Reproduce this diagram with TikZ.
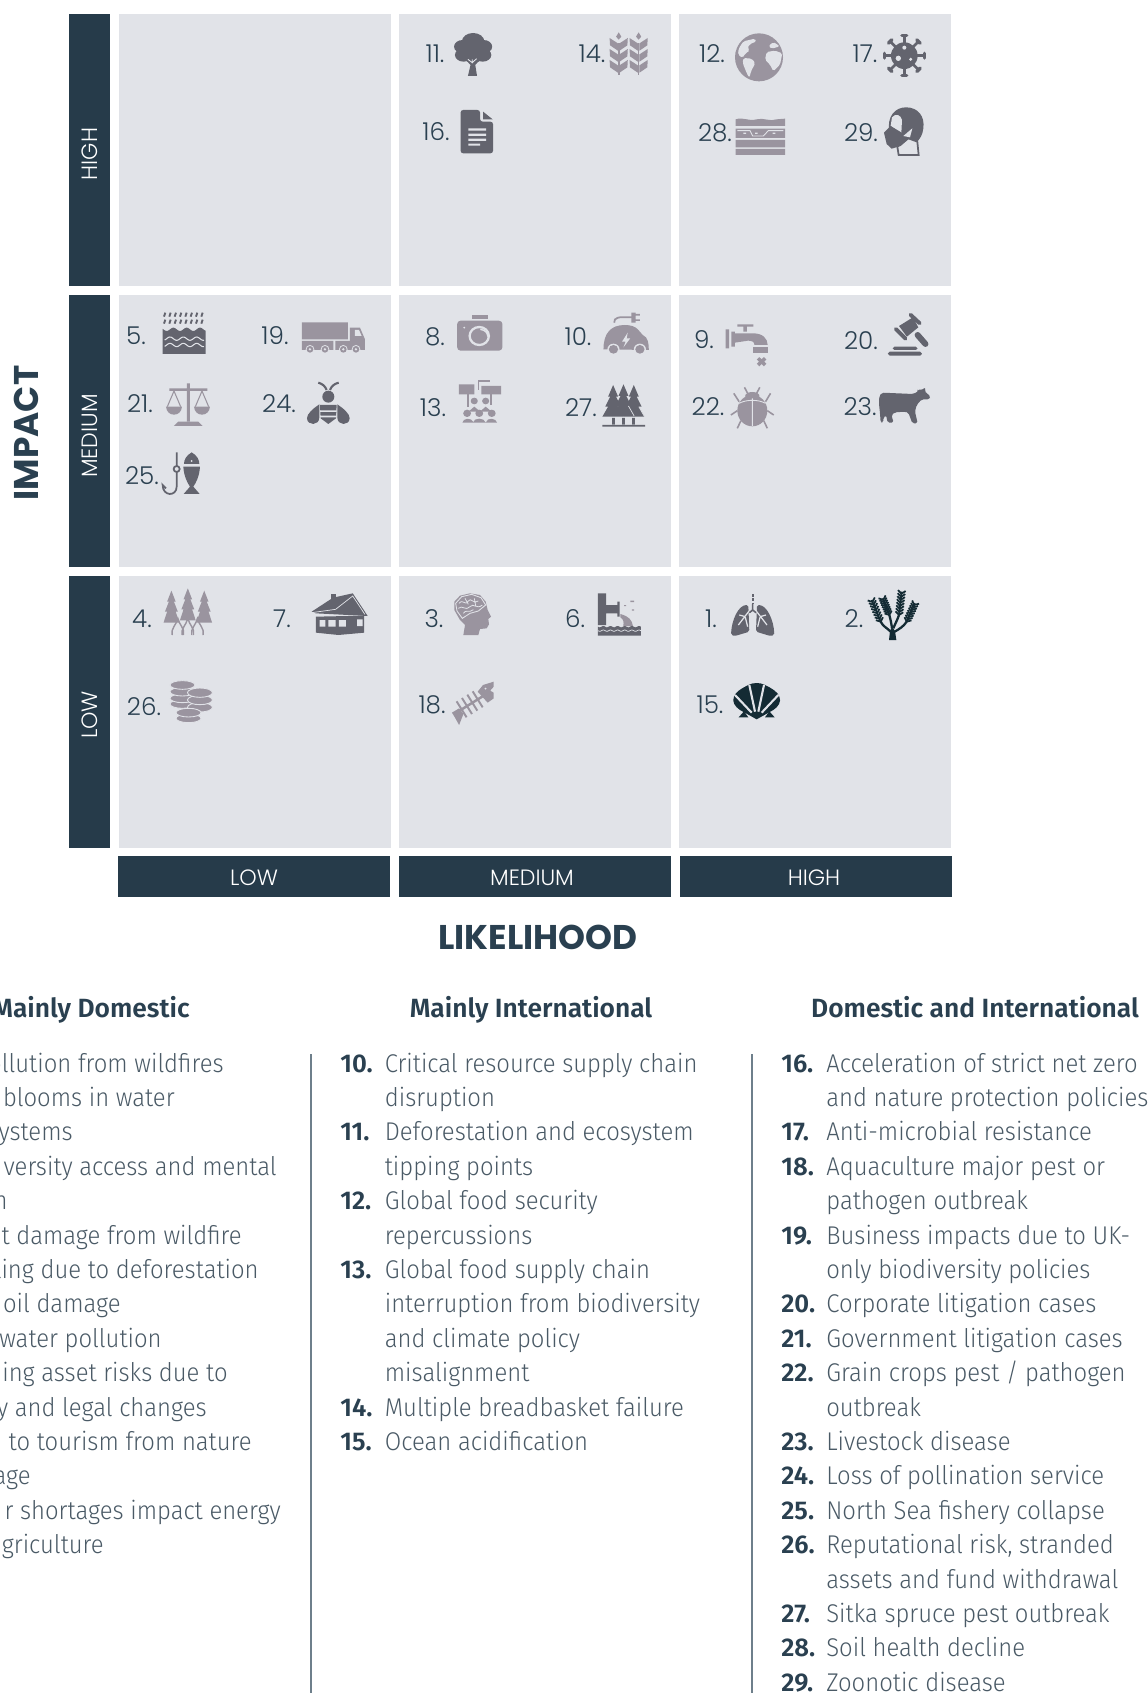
\documentclass[tikz,border=0pt]{standalone}
\usepackage{fontspec}
\usetikzlibrary{calc}
\newfontfamily\numfont{Poppins}[UprightFont=* Light,BoldFont=* Bold]
\newfontfamily\lstfont{Fira Sans}[UprightFont=* Light,BoldFont=* SemiBold,UprightFeatures={FakeStretch=0.93}]
\definecolor{barblue}{HTML}{263B4A}
\definecolor{cellgrey}{HTML}{E1E3E8}
\definecolor{iconlt}{HTML}{9A949F}
\definecolor{icondk}{HTML}{63646E}
\definecolor{iconnavy}{HTML}{142B34}
\definecolor{numblue}{HTML}{2A4050}
\definecolor{lsttext}{HTML}{4A5A66}
\definecolor{splitline}{HTML}{6E7F8B}
\tikzset{
    % text on the bars
    barlab/.style={inner sep=0pt, text=white, font=\numfont\fontsize{12.6}{14}\selectfont},
    axislab/.style={inner sep=0pt, text=numblue, font=\numfont\bfseries\fontsize{19.5}{22}\selectfont},
    % number beside an icon
    risknum/.style={inner sep=0pt, text=numblue, font=\numfont\fontsize{14}{16}\selectfont},
    % lists
    lsthead/.style={inner sep=0pt, anchor=base, text=numblue, font=\lstfont\bfseries\fontsize{15}{18}\selectfont},
    lstnum/.style={inner sep=0pt, anchor=base west, text=numblue, font=\lstfont\bfseries\fontsize{14.6}{18}\selectfont},
    lsttxt/.style={inner sep=0pt, anchor=base west, text=lsttext, font=\lstfont\fontsize{14.6}{18}\selectfont},
    lstcut/.style={lsttxt, anchor=base east},
    % the zoomed frames the icons are traced in
    zone/.style={x=0.008673cm,y=-0.006667cm},
    zfine/.style={shift={#1},x=0.006667cm,y=-0.006667cm},
    zwide/.style={shift={#1},x=0.007143cm,y=-0.006667cm},
    coin/.style={fill=iconlt, draw=cellgrey, line width=0.5pt}
}
\begin{document}
\begin{tikzpicture}[x=0.02cm,y=-0.02cm]
\useasboundingbox (0,0) rectangle (1148,1693);
\fill [white] (0,0) rectangle (1148,1693);

%%%%%%%%%%%%%%%%%%%%%%%%%%%%%%%%%

% cells
\fill [cellgrey] (119,14) rectangle (391,286);
\fill [cellgrey] (399,14) rectangle (671,286);
\fill [cellgrey] (679,14) rectangle (951,286);
\fill [cellgrey] (119,295) rectangle (391,567);
\fill [cellgrey] (399,295) rectangle (671,567);
\fill [cellgrey] (679,295) rectangle (951,567);
\fill [cellgrey] (119,576) rectangle (391,848);
\fill [cellgrey] (399,576) rectangle (671,848);
\fill [cellgrey] (679,576) rectangle (951,848);

% impact bars
\fill [barblue] (69,14) rectangle (110,286);
\fill [barblue] (69,295) rectangle (110,567);
\fill [barblue] (69,576) rectangle (110,848);

% likelihood bars
\fill [barblue] (118,856) rectangle (390,897);
\fill [barblue] (399,856) rectangle (671,897);
\fill [barblue] (680,856) rectangle (952,897);

\node [barlab, rotate=90] (impHigh) at (89.5,154) {HIGH};
\node [barlab, rotate=90] (impMed) at (89.5,436) {MEDIUM};
\node [barlab, rotate=90] (impLow) at (89.5,715) {LOW};
\node [barlab] (likLow) at (254,878) {LOW};
\node [barlab] (likMed) at (532,878) {MEDIUM};
\node [barlab] (likHigh) at (814,878) {HIGH};

\node [axislab, rotate=90] (impact) at (26,433) {IMPACT};
\node [axislab] (likelihood) at (538,937) {LIKELIHOOD};

% numbers beside the icons
\node [risknum] (r11) at (435,54) {11.};
\node [risknum] (r14) at (592,54) {14.};
\node [risknum] (r16) at (436,132) {16.};
\node [risknum] (r12) at (712,54) {12.};
\node [risknum] (r17) at (865,54) {17.};
\node [risknum] (r28) at (715,133) {28.};
\node [risknum] (r29) at (861,133) {29.};
\node [risknum] (r5) at (136,336) {5.};
\node [risknum] (r19) at (275,336) {19.};
\node [risknum] (r21) at (140,404) {21.};
\node [risknum] (r24) at (279,404) {24.};
\node [risknum] (r25) at (142,476) {25.};
\node [risknum] (r8) at (435,337) {8.};
\node [risknum] (r10) at (578,337) {10.};
\node [risknum] (r13) at (433,408) {13.};
\node [risknum] (r27) at (581,408) {27.};
\node [risknum] (r9) at (704,340) {9.};
\node [risknum] (r20) at (861,341) {20.};
\node [risknum] (r22) at (708,407) {22.};
\node [risknum] (r23) at (860,407) {23.};
\node [risknum] (r4) at (142,619) {4.};
\node [risknum] (r7) at (282,619) {7.};
\node [risknum] (r26) at (144,707) {26.};
\node [risknum] (r3) at (434,619) {3.};
\node [risknum] (r6) at (575,619) {6.};
\node [risknum] (r18) at (432,705) {18.};
\node [risknum] (r1) at (711,619) {1.};
\node [risknum] (r2) at (854,619) {2.};
\node [risknum] (r15) at (710,705) {15.};

%%%%%%%%%%%%%%%%%%%%%%%%%%%%%%%%%
% icons, top row

\begin{scope}[zone]
% tree
\fill [icondk] (1092,125) circle [radius=26] (1068,140) circle [radius=20] (1116,140) circle [radius=20]
               (1070,165) circle [radius=20] (1114,165) circle [radius=20] (1092,165) circle [radius=24];
\fill [icondk] (1080,228) -- (1086,195) -- (1072,175) -- (1110,175) -- (1097,195) -- (1101,228) -- cycle;
\draw [cellgrey, line width=0.5pt] (1090,190) -- (1090,178) (1090,188) -- (1080,178) (1090,188) -- (1100,176);
% wheat
\foreach \sx in {1428,1474}{
  \fill [iconlt] (\sx-2,130) rectangle (\sx+2,225);
  \fill [iconlt] (\sx,97) -- (\sx+6,110) -- (\sx,119) -- (\sx-6,110) -- cycle;
  \foreach \ly in {122,155,188}{
    \fill [iconlt] (\sx-2,\ly+30) -- (\sx-20,\ly+14) -- (\sx-21,\ly-8) -- (\sx-2,\ly+8) -- cycle;
    \fill [iconlt] (\sx+2,\ly+30) -- (\sx+20,\ly+14) -- (\sx+21,\ly-8) -- (\sx+2,\ly+8) -- cycle;
  }
}
% document
\fill [icondk, rounded corners=1.5pt] (1063,330) -- (1108,330) -- (1108,365) -- (1138,365) -- (1138,460) -- (1063,460) -- cycle;
\fill [icondk] (1115,335) -- (1137,358) -- (1115,358) -- cycle;
\fill [cellgrey] (1081,385) rectangle (1122,392) (1081,401) rectangle (1122,408)
                 (1081,416) rectangle (1122,423) (1081,431) rectangle (1108,437);
\end{scope}

\begin{scope}[zfine={(730,28)}]
% globe
\fill [iconlt] (87,88) circle [radius=72];
\fill [cellgrey, rounded corners=1pt] (26,62) -- (40,40) -- (75,32) -- (80,40) -- (60,48) -- (52,60) -- (60,68) -- (46,76) -- (38,90) -- (24,80) -- cycle;
\fill [cellgrey, rounded corners=1pt] (40,90) -- (65,92) -- (76,105) -- (63,130) -- (58,150) -- (50,135) -- (38,105) -- cycle;
\fill [cellgrey, rounded corners=1pt] (110,72) -- (135,68) -- (157,76) -- (150,110) -- (130,130) -- (120,110) -- (105,95) -- cycle;
\fill [cellgrey, rounded corners=1pt] (115,55) -- (130,42) -- (150,55) -- (125,62) -- cycle;
\end{scope}

\begin{scope}[zfine={(660,0)}]
% virus
\foreach \ang in {0,45,...,315}{
  \draw [icondk, line width=1.5pt, line cap=round] (733,167) -- ++(\ang:57);
  \draw [icondk, line width=2pt, line cap=round] ($(733,167)+(\ang:60)+(\ang+90:7)$) -- ($(733,167)+(\ang:60)+(\ang-90:7)$);
}
\fill [icondk] (733,167) circle [radius=40];
\fill [cellgrey] (733,143) circle [radius=6] (715,175) circle [radius=8] (752,178) circle [radius=5];
% soil layers
\fill [iconlt] (227,378) -- (227,358) .. controls (250,350) and (265,365) .. (290,358) .. controls (310,352) and (330,366) .. (350,358) -- (375,356) -- (375,378) -- cycle;
\fill [iconlt] (227,386) rectangle (375,414) (227,420) rectangle (375,442) (227,447) rectangle (375,465);
\fill [cellgrey] (250,398) rectangle (258,402) (285,398) rectangle (293,402) (338,398) rectangle (346,402);
\draw [cellgrey, line width=0.5pt] (232,392) -- (270,392) -- (278,408) -- (310,408) -- (325,392) -- (370,392);
% head with mask
\fill [icondk] (688,395) .. controls (680,350) and (705,322) .. (738,322) .. controls (775,322) and (795,350) .. (790,385) .. controls (788,405) and (780,415) .. (772,425) -- (700,440) -- cycle;
\fill [cellgrey] (696,352) .. controls (708,338) and (722,345) .. (726,360) -- (724,400) -- (692,378) -- cycle;
\fill [cellgrey, draw=icondk, line width=1pt] (712,440) -- (716,465) -- (776,465) -- (772,425) -- (745,415) -- cycle;
\fill [icondk] (672,398) -- (692,378) -- (725,398) -- (748,415) -- (722,438) -- (695,446) -- (680,432) -- cycle;
\fill [cellgrey] (730,408) -- (757,385) -- (750,412) -- cycle;
\end{scope}

%%%%%%%%%%%%%%%%%%%%%%%%%%%%%%%%%
% icons, middle row

\begin{scope}[zfine={(110,290)}]
% rain on waves
\foreach \sx in {162,178,...,282}{
  \draw [icondk, line width=1.1pt] (\sx,80) -- (\sx+4,68);
  \draw [icondk, line width=1.1pt] (\sx,101) -- (\sx+4,89);
}
\fill [icondk] (158,192) -- plot [domain=158:287,samples=45] (\x,{118+5*sin(\x*9)}) -- (287,192) -- cycle;
\draw [cellgrey, line width=0.6pt] plot [domain=164:282,samples=40] (\x,{146+5*sin(\x*9+90)});
\draw [cellgrey, line width=0.6pt] plot [domain=164:282,samples=40] (\x,{165+5*sin(\x*9+90)});
% truck
\fill [iconlt] (576,97) rectangle (714,148) (576,153) rectangle (670,180) (676,153) rectangle (765,180);
\fill [iconlt] (720,113) -- (750,113) -- (765,148) -- (765,153) -- (720,153) -- cycle;
\fill [cellgrey] (735,120) -- (747,120) -- (755,138) -- (735,138) -- cycle;
\foreach \sx in {600,645,700,738}{
  \fill [cellgrey] (\sx,178) circle [radius=13];
  \fill [iconlt] (\sx,178) circle [radius=10];
  \fill [cellgrey] (\sx,178) circle [radius=4];
}
% scales
\fill [iconlt] (231,280) rectangle (240,395) (178,295) rectangle (292,303);
\fill [iconlt] (192,408) -- (205,395) -- (265,395) -- (278,408) -- cycle;
\fill [iconlt] (168,350) .. controls (170,382) and (214,382) .. (216,350) -- cycle;
\fill [iconlt] (252,350) .. controls (254,382) and (298,382) .. (300,350) -- cycle;
\draw [iconlt, line width=0.6pt] (172,350) -- (192,303) -- (212,350) (256,350) -- (276,303) -- (296,350);
% bee
\draw [icondk, line width=1.2pt] (625,278) .. controls (638,282) and (645,288) .. (650,300);
\draw [icondk, line width=1.2pt] (686,278) .. controls (672,282) and (665,288) .. (660,300);
\fill [icondk] (655,320) circle [radius=18];
\fill [icondk] (630,345) -- (680,345) -- (678,385) -- (655,402) -- (632,385) -- cycle;
\fill [cellgrey] (630,361) rectangle (680,366) (630,377) rectangle (680,382);
\fill [icondk] (628,343) .. controls (610,355) and (590,372) .. (591,385) .. controls (592,408) and (628,408) .. (628,382) -- cycle;
\fill [icondk] (682,343) .. controls (700,355) and (720,372) .. (719,385) .. controls (718,408) and (682,408) .. (682,382) -- cycle;
% hook and fish
\draw [icondk, line width=1pt] (200,487) -- (200,590) .. controls (200,620) and (158,620) .. (158,585) -- (168,595);
\draw [icondk, line width=1pt, fill=cellgrey] (200,537) circle [radius=9];
\fill [icondk] (245,487) .. controls (228,497) and (222,510) .. (222,522) -- (268,522) .. controls (268,510) and (262,497) .. (245,487) -- cycle;
\fill [cellgrey] (245,513) circle [radius=3];
\fill [icondk] (220,530) -- (270,530) .. controls (268,560) and (258,578) .. (250,590) -- (269,612) -- (221,612) -- (240,590) .. controls (232,578) and (222,560) .. (220,530) -- cycle;
\end{scope}

\begin{scope}[zwide={(400,290)}]
% camera
\fill [iconlt, rounded corners=2pt] (160,92) rectangle (287,182);
\fill [iconlt] (202,74) rectangle (246,88);
\draw [cellgrey, line width=1.3pt] (222,138) circle [radius=27];
\draw [cellgrey, line width=0.8pt] (225,118) .. controls (238,120) and (246,128) .. (246,140);
\fill [cellgrey] (180,113) circle [radius=3];
% electric car
\fill [iconlt] (570,178) .. controls (570,130) and (590,105) .. (630,105) .. controls (665,105) and (670,125) .. (680,135) .. controls (695,142) and (697,160) .. (697,180) -- cycle;
\foreach \sx in {598,672}{
  \fill [cellgrey] (\sx,178) circle [radius=17];
  \fill [iconlt] (\sx,178) circle [radius=13];
}
\fill [cellgrey] (638,128) -- (622,155) -- (632,155) -- (626,172) -- (645,145) -- (635,145) -- cycle;
\draw [iconlt, line width=1pt] (600,98) .. controls (600,82) and (610,80) .. (650,82);
\fill [iconlt] (648,68) rectangle (660,98) (660,72) rectangle (672,77) (660,88) rectangle (672,93);
% protest
\fill [iconlt] (165,283) rectangle (208,313) (228,288) rectangle (283,313);
\draw [iconlt, line width=1pt] (190,313) -- (190,350) (255,313) -- (255,345) (252,272) -- (220,272) -- (220,300);
\fill [iconlt] (208,333) circle [radius=10] (240,333) circle [radius=10];
\fill [iconlt] (192,365) -- (225,365) -- (208,350) -- cycle (224,365) -- (257,365) -- (240,350) -- cycle;
\fill [iconlt] (188,370) circle [radius=11] (222,370) circle [radius=11] (257,370) circle [radius=11];
\fill [iconlt] (175,398) .. controls (175,385) and (200,380) .. (207,398) -- cycle (205,398) .. controls (205,382) and (238,382) .. (240,398) -- cycle (240,398) .. controls (245,380) and (270,385) .. (272,398) -- cycle;
% three trees
\foreach \sx/\sy in {597/285,655/285,626/283}{
  \fill [icondk] (\sx,\sy) -- (\sx+14,\sy+35) -- (\sx+8,\sy+35) -- (\sx+22,\sy+65) -- (\sx+14,\sy+65) -- (\sx+30,\sy+95)
                -- (\sx-30,\sy+95) -- (\sx-14,\sy+65) -- (\sx-22,\sy+65) -- (\sx-8,\sy+35) -- (\sx-14,\sy+35) -- cycle;
  \draw [cellgrey, line width=0.4pt] (\sx+30,\sy+95) -- (\sx+14,\sy+65);
}
\fill [icondk] (567,405) rectangle (687,410) (594,384) rectangle (602,403) (622,384) rectangle (630,403) (650,384) rectangle (658,403);
% tap
\fill [iconlt] (912,118) rectangle (922,175) (928,125) rectangle (938,170);
\fill [iconlt] (945,103) rectangle (990,110) (962,110) rectangle (972,125);
\fill [iconlt] (938,130) -- (990,130) .. controls (1015,130) and (1030,145) .. (1030,165) -- (993,165) .. controls (993,155) and (985,152) .. (975,152) -- (938,158) -- cycle;
\fill [iconlt] (990,170) rectangle (1030,188);
\draw [iconlt, line width=2pt] (1003,205) -- (1023,225) (1023,205) -- (1003,225);
% gavel
\draw [icondk, line width=3.4pt, line cap=round] (1450,135) -- (1472,162);
\fill [icondk] (1398,108) -- (1437,82) -- (1452,112) -- (1420,140) -- cycle;
\draw [icondk, line width=2.2pt, line cap=round] (1430,74) -- (1456,100) (1389,117) -- (1416,146);
\fill [icondk, rounded corners=1pt] (1380,170) rectangle (1450,180);
\fill [icondk, rounded corners=1pt] (1367,185) rectangle (1462,197);
% bug
\draw [iconlt, line width=0.9pt] (965,292) -- (975,312) (1008,292) -- (998,312);
\draw [iconlt, line width=0.9pt] (950,335) -- (935,310) (945,362) -- (927,375) (955,392) -- (945,415)
                                 (1024,335) -- (1038,310) (1029,362) -- (1047,375) (1019,392) -- (1029,415);
\fill [iconlt] (987,318) ellipse [x radius=20, y radius=12];
\fill [iconlt] (987,362) ellipse [x radius=42, y radius=47];
\draw [cellgrey, line width=0.5pt] (987,325) -- (987,408) (950,340) .. controls (970,328) and (1004,328) .. (1024,340);
\end{scope}

\begin{scope}[zfine={(870,380)}]
% cow
\fill [icondk, rounded corners=1pt] (28,48) -- (36,38) -- (130,42) -- (146,33) -- (143,27) -- (152,31) -- (168,22) -- (163,33) -- (182,50) -- (178,58) -- (155,58) -- (140,75) -- (135,95) -- (143,130) -- (127,130) -- (115,98) -- (105,95) -- (75,97) -- (64,105) -- (71,128) -- (53,128) -- (48,105) -- (41,112) -- (39,128) -- (32,128) -- (30,100) -- (27,72) -- cycle;
\end{scope}

%%%%%%%%%%%%%%%%%%%%%%%%%%%%%%%%%
% icons, bottom row

\begin{scope}[zwide={(110,570)}]
% burning trees
\foreach \sx/\sy in {172/62,218/55,264/62}{
  \fill [iconlt] (\sx,\sy) -- (\sx+12,\sy+33) -- (\sx+7,\sy+33) -- (\sx+18,\sy+63) -- (\sx+12,\sy+63) -- (\sx+22,\sy+96)
                -- (\sx-22,\sy+96) -- (\sx-12,\sy+63) -- (\sx-18,\sy+63) -- (\sx-7,\sy+33) -- (\sx-12,\sy+33) -- cycle;
}
\foreach \sx in {190,218,245}{
  \draw [iconlt, line width=0.8pt] (\sx-16,195) .. controls (\sx-20,175) and (\sx-4,165) .. (\sx,145) .. controls (\sx+4,165) and (\sx+20,175) .. (\sx+16,195);
}
% house
\fill [icondk] (618,72) rectangle (632,90);
\fill [icondk] (565,125) -- (625,83) -- (680,70) -- (722,138) -- (577,130) -- cycle;
\fill [icondk] (577,140) -- (712,137) -- (712,188) -- (640,195) -- (577,188) -- cycle;
\draw [cellgrey, line width=0.4pt] (632,118) -- (680,78) -- (714,133) (565,128) -- (632,118);
\fill [cellgrey] (587,150) rectangle (603,170) (612,150) rectangle (632,170) (641,150) rectangle (661,170) (692,148) rectangle (708,168);
% coins
\foreach \sy in {402,385,365,345}{ \path [coin] (203,\sy) ellipse [x radius=35, y radius=13]; }
\foreach \sy in {412,390,368}{ \path [coin] (252,\sy) ellipse [x radius=35, y radius=14]; }
\foreach \sy in {445,428}{ \path [coin] (220,\sy) ellipse [x radius=35, y radius=13]; }
% outfall pipe
\fill [icondk] (1367,70) rectangle (1390,165) (1390,105) rectangle (1425,130) (1421,95) rectangle (1428,140);
\fill [iconlt] (1430,132) .. controls (1455,140) and (1462,150) .. (1465,168) -- (1438,168) .. controls (1440,155) and (1438,148) .. (1430,142) -- cycle;
\fill [iconlt] (1440,105) rectangle (1446,108) (1458,92) rectangle (1468,96) (1462,118) rectangle (1468,122);
\fill [icondk] (1367,197) -- plot [domain=0:120,samples=50] (1367+\x,{170+2*sin(\x*18)}) -- (1487,197) -- cycle;
\draw [cellgrey, line width=0.4pt] plot [domain=0:120,samples=50] (1367+\x,{182+2*sin(\x*18)});
% fish bone
\draw [iconlt, line width=1.4pt] (975,425) -- (1050,375);
\foreach \sx/\sy in {985/418,1000/408,1015/398,1030/388}{
  \draw [iconlt, line width=1.1pt] (\sx-14,\sy-24) -- (\sx+14,\sy+24);
}
\fill [iconlt] (1030,365) -- (1045,345) -- (1075,335) -- (1075,350) -- (1065,362) -- (1075,368) -- (1075,385) -- (1058,398) -- cycle;
\fill [cellgrey] (1052,356) circle [radius=3];
\fill [iconlt] (958,428) -- (978,415) -- (990,432) -- (978,465) -- (966,442) -- cycle;
\end{scope}

\begin{scope}[zfine={(445,585)}]
% head with brain
\fill [iconlt] (55,150) -- (60,120) -- (45,105) -- (28,75) -- (28,50) -- (45,32) -- (75,25) -- (105,30) -- (122,50) -- (128,75) -- (138,95) -- (130,102) -- (132,118) -- (125,130) -- (105,132) -- (100,150) -- cycle;
\draw [cellgrey, line width=0.5pt] (52,100) -- (36,78) -- (32,55) -- (50,35) -- (80,28) -- (108,38) -- (122,60) -- (100,78) -- (75,85) -- cycle;
\draw [cellgrey, line width=0.45pt] (42,55) .. controls (55,40) and (60,65) .. (70,48) .. controls (78,35) and (85,60) .. (100,48)
     (40,70) .. controls (52,58) and (62,80) .. (75,65) .. controls (85,52) and (95,75) .. (112,60)
     (55,85) .. controls (62,72) and (72,85) .. (85,74) (60,40) -- (70,58) (88,40) -- (92,62);
\end{scope}

\begin{scope}[zfine={(670,570)}]
% lungs
\fill [icondk, rounded corners=1pt] (235,105) .. controls (205,105) and (185,150) .. (183,195) -- (195,198) -- (238,185) -- cycle;
\fill [icondk, rounded corners=1pt] (261,105) .. controls (291,105) and (311,150) .. (313,195) -- (301,198) -- (258,185) -- cycle;
\draw [icondk, line width=1.3pt, dash pattern=on 1.5pt off 1pt] (248,72) -- (248,102);
\draw [cellgrey, line width=0.7pt] (238,122) -- (205,165) (258,122) -- (291,165)
      (226,140) -- (208,135) (226,142) -- (233,170) (270,140) -- (288,135) (270,142) -- (263,170);
\draw [icondk, line width=0.9pt] (248,102) -- (248,120) -- (238,128) (248,120) -- (258,128);
% shell
\fill [iconnavy] (260,448) -- (210,420) .. controls (195,410) and (185,395) .. (192,380) .. controls (197,365) and (215,355) .. (235,345) .. controls (250,337) and (270,337) .. (285,345) .. controls (305,355) and (323,365) .. (328,380) .. controls (335,395) and (325,410) .. (310,420) -- cycle;
\draw [cellgrey, line width=1.2pt] (255,425) -- (238,345) (265,425) -- (282,345) (245,428) -- (195,375) (275,428) -- (325,375);
\fill [iconnavy] (206,442) -- (222,424) -- (235,442) -- cycle (314,442) -- (298,424) -- (285,442) -- cycle;
\end{scope}

\begin{scope}[zfine={(860,585)}]
% coral
\fill [iconnavy] (87,165) -- (109,165) -- (105,138) -- (96,125) -- (90,138) -- cycle;
\draw [iconnavy, line width=1.3pt] (92,140) .. controls (80,128) and (70,125) .. (62,110)
                                   (96,130) .. controls (94,115) and (92,105) .. (88,90)
                                   (100,130) .. controls (106,115) and (112,105) .. (117,90)
                                   (104,140) .. controls (118,132) and (130,125) .. (140,110);
\foreach \sx/\sy/\ex/\ey/\ang in {62/110/35/45/-113, 88/90/68/40/-112, 117/90/125/20/-83, 140/110/165/55/-65}{
  \draw [iconnavy, line width=1pt] (\sx,\sy) -- (\ex,\ey);
  \foreach \t in {0,0.13,0.26,0.39,0.52,0.65,0.78,0.91}{
    \draw [iconnavy, line width=1pt] ($(\sx,\sy)!\t!(\ex,\ey)$) -- ++(\ang+50:15);
    \draw [iconnavy, line width=1pt] ($(\sx,\sy)!\t!(\ex,\ey)$) -- ++(\ang-50:15);
  }
}
\end{scope}

%%%%%%%%%%%%%%%%%%%%%%%%%%%%%%%%%
% lists

\node [lstcut, text=numblue, font=\lstfont\bfseries\fontsize{15}{18}\selectfont] (hDom) at (190,1017) {Mainly Domestic};
\node [lsthead] (hInt) at (531,1017) {Mainly International};
\node [lsthead] (hBoth) at (975,1017) {Domestic and International};

% dividers
\coordinate (topA) at (311,1054);
\coordinate (botA) at (311,1693);
\coordinate (topB) at (752,1054);
\coordinate (botB) at (752,1693);
\draw [splitline, line width=0.9pt] (topA) -- (botA);
\draw [splitline, line width=0.9pt] (topB) -- (botB);

% first column, cut by the page edge
\node [lstcut] (a0) at (224,1072) {ollution from wildfires};
\node [lstcut] (a1) at (175,1106.4) {blooms in water};
\node [lstcut] (a2) at (73,1140.8) {ystems};
\node [lstcut] (a3) at (277,1175.2) {versity access and mental};
\node [lstcut] (a4) at (8,1209.6) {n};
\node [lstcut] (a5) at (242,1244) {t damage from wildfire};
\node [lstcut] (a6) at (259,1278.4) {ling due to deforestation};
\node [lstcut] (a7) at (121,1312.8) {oil damage};
\node [lstcut] (a8) at (162,1347.2) {water pollution};
\node [lstcut] (a9) at (228,1381.6) {ing asset risks due to};
\node [lstcut] (a10) at (207,1416) {y and legal changes};
\node [lstcut] (a11) at (252,1450.4) {to tourism from nature};
\node [lstcut] (a12) at (31,1484.8) {age};
\node [lstcut] (a13) at (281,1519.2) {r shortages impact energy};
\node [lstcut] (a14) at (104,1553.6) {griculture};

% second column
\node [lstnum] (n10) at (340,1072) {10.};
\node [lsttxt] (b0) at (384.5,1072) {Critical resource supply chain};
\node [lsttxt] (b1) at (384.5,1106.4) {disruption};
\node [lstnum] (n11) at (340,1140.8) {11.};
\node [lsttxt] (b2) at (384.5,1140.8) {Deforestation and ecosystem};
\node [lsttxt] (b3) at (384.5,1175.2) {tipping points};
\node [lstnum] (n12) at (340,1209.6) {12.};
\node [lsttxt] (b4) at (384.5,1209.6) {Global food security};
\node [lsttxt] (b5) at (384.5,1244) {repercussions};
\node [lstnum] (n13) at (340,1278.4) {13.};
\node [lsttxt] (b6) at (384.5,1278.4) {Global food supply chain};
\node [lsttxt] (b7) at (384.5,1312.8) {interruption from biodiversity};
\node [lsttxt] (b8) at (384.5,1347.2) {and climate policy};
\node [lsttxt] (b9) at (384.5,1381.6) {misalignment};
\node [lstnum] (n14) at (340,1416) {14.};
\node [lsttxt] (b10) at (384.5,1416) {Multiple breadbasket failure};
\node [lstnum] (n15) at (340,1450.4) {15.};
\node [lsttxt] (b11) at (384.5,1450.4) {Ocean acidification};

% third column
\node [lstnum] (n16) at (781,1072) {16.};
\node [lsttxt] (c0) at (826,1072) {Acceleration of strict net zero};
\node [lsttxt] (c1) at (826,1106.4) {and nature protection policies};
\node [lstnum] (n17) at (781,1140.8) {17.};
\node [lsttxt] (c2) at (826,1140.8) {Anti-microbial resistance};
\node [lstnum] (n18) at (781,1175.2) {18.};
\node [lsttxt] (c3) at (826,1175.2) {Aquaculture major pest or};
\node [lsttxt] (c4) at (826,1209.6) {pathogen outbreak};
\node [lstnum] (n19) at (781,1244) {19.};
\node [lsttxt] (c5) at (826,1244) {Business impacts due to UK-};
\node [lsttxt] (c6) at (826,1278.4) {only biodiversity policies};
\node [lstnum] (n20) at (781,1312.8) {20.};
\node [lsttxt] (c7) at (826,1312.8) {Corporate litigation cases};
\node [lstnum] (n21) at (781,1347.2) {21.};
\node [lsttxt] (c8) at (826,1347.2) {Government litigation cases};
\node [lstnum] (n22) at (781,1381.6) {22.};
\node [lsttxt] (c9) at (826,1381.6) {Grain crops pest / pathogen};
\node [lsttxt] (c10) at (826,1416) {outbreak};
\node [lstnum] (n23) at (781,1450.4) {23.};
\node [lsttxt] (c11) at (826,1450.4) {Livestock disease};
\node [lstnum] (n24) at (781,1484.8) {24.};
\node [lsttxt] (c12) at (826,1484.8) {Loss of pollination service};
\node [lstnum] (n25) at (781,1519.2) {25.};
\node [lsttxt] (c13) at (826,1519.2) {North Sea fishery collapse};
\node [lstnum] (n26) at (781,1553.6) {26.};
\node [lsttxt] (c14) at (826,1553.6) {Reputational risk, stranded};
\node [lsttxt] (c15) at (826,1588) {assets and fund withdrawal};
\node [lstnum] (n27) at (781,1622.4) {27.};
\node [lsttxt] (c16) at (826,1622.4) {Sitka spruce pest outbreak};
\node [lstnum] (n28) at (781,1656.8) {28.};
\node [lsttxt] (c17) at (826,1656.8) {Soil health decline};
\node [lstnum] (n29) at (781,1691.2) {29.};
\node [lsttxt] (c18) at (826,1691.2) {Zoonotic disease};

\end{tikzpicture}
\end{document}
